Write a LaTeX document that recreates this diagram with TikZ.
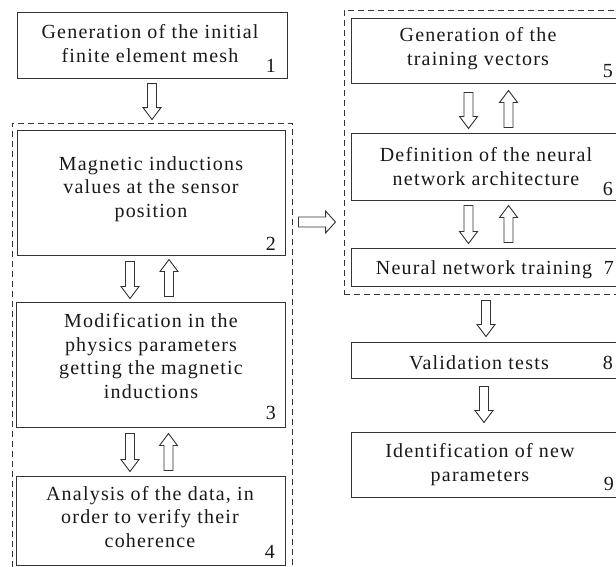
\documentclass[tikz,border=0pt]{standalone}
\usepackage{fontspec}
\setmainfont{Liberation Serif}[LetterSpace=6]
\usetikzlibrary{fit,calc}
\tikzset{
  box/.style={draw=black!80, line width=1pt, inner sep=0pt},
  dbox/.style={draw=black!80, line width=0.9pt, dash pattern=on 6pt off 4pt, inner sep=0pt},
  txt/.style={align=center, font=\fontsize{20}{23.5}\selectfont, text=black!90, inner sep=0pt, anchor=base},
  num/.style={font=\fontsize{20}{23.5}\selectfont, text=black!90, inner sep=0pt, anchor=base east},
  fat/.style={draw=black!80, line width=0.9pt, fill=white, line join=miter}
}
\newcommand\fatdown[2]{\draw[fat] let \p1=#1, \p2=#2 in
  (\x1-4.5pt,\y1) -- (\x1-4.5pt,\y2+12pt) -- (\x1-9pt,\y2+12pt) -- (\x1,\y2) --
  (\x1+9pt,\y2+12pt) -- (\x1+4.5pt,\y2+12pt) -- (\x1+4.5pt,\y1) -- cycle;}
\newcommand\fatup[2]{\draw[fat] let \p1=#1, \p2=#2 in
  (\x1-4.5pt,\y1) -- (\x1-4.5pt,\y2-12pt) -- (\x1-9pt,\y2-12pt) -- (\x1,\y2) --
  (\x1+9pt,\y2-12pt) -- (\x1+4.5pt,\y2-12pt) -- (\x1+4.5pt,\y1) -- cycle;}
\newcommand\fatright[2]{\draw[fat] let \p1=#1, \p2=#2 in
  (\x1,\y1-5pt) -- (\x2-10pt,\y1-5pt) -- (\x2-10pt,\y1-11pt) -- (\x2,\y1) --
  (\x2-10pt,\y1+11pt) -- (\x2-10pt,\y1+5pt) -- (\x1,\y1+5pt) -- cycle;}
\begin{document}
\begin{tikzpicture}[x=1pt,y=-1pt]
\useasboundingbox (0,0) rectangle (616,566);
\clip (0,0) rectangle (616,566);
\fill[white] (0,0) rectangle (616,566);
% dashed groups
\node[dbox, fit={(12,123)(292,575)}] (ld) {};
\node[dbox, fit={(344,10)(632,294)}] (rd) {};
% left boxes
\node[box, fit={(17,12)(287,78)}] (b1) {};
\node[box, fit={(17,130)(285,255)}] (b2) {};
\node[box, fit={(16,302)(285,427)}] (b3) {};
\node[box, fit={(16,476)(285,565)}] (b4) {};
% right boxes
\node[box, fit={(351,18)(624,83)}] (b5) {};
\node[box, fit={(351,133)(624,200)}] (b6) {};
\node[box, fit={(351,248)(624,286)}] (b7) {};
\node[box, fit={(351,342)(624,378)}] (b8) {};
\node[box, fit={(351,432)(624,497)}] (b9) {};
% texts (anchor = baseline of the last line)
\node[txt] (t1) at (150,62) {Generation of the initial\\finite element mesh};
\node[txt] (t2) at (151,217) {Magnetic inductions\\values at the sensor\\position};
\node[txt] (t3) at (151,398) {Modification in the\\physics parameters\\getting the magnetic\\inductions};
\node[txt] (t4) at (150,547) {Analysis of the data, in\\order to verify their\\coherence};
\node[txt] (t5) at (478,65) {Generation of the\\training vectors};
\node[txt] (t6) at (486,185) {Definition of the neural\\network architecture};
\node[txt] (t7) at (484,274) {Neural network training};
\node[txt] (t8) at (479,369) {Validation tests};
\node[txt] (t9) at (480,481) {Identification of new\\parameters};
% numbers
\node[num] (n1) at (276,72) {1};
\node[num] (n2) at (276,250) {2};
\node[num] (n3) at (276,419) {3};
\node[num] (n4) at (275,558) {4};
\node[num] (n5) at (613,77) {5};
\node[num] (n6) at (613,195) {6};
\node[num] (n7) at (614,274) {7};
\node[num] (n8) at (613,369) {8};
\node[num] (n9) at (614,490) {9};
% connectors
\fatdown{([yshift=-5pt]b1.south)}{([yshift=3pt]ld.north)}
\fatdown{([xshift=-21pt,yshift=-6pt]b2.south)}{([yshift=3pt]b3.north)}
\fatup{([xshift=18.5pt,yshift=5pt]b3.north)}{([yshift=-4pt]b2.south)}
\fatdown{([xshift=-20.5pt,yshift=-6pt]b3.south)}{([yshift=4pt]b4.north)}
\fatup{([xshift=18pt,yshift=5pt]b4.north)}{([yshift=-6pt]b3.south)}
\fatright{([xshift=6pt]ld.east |- 0,222)}{([xshift=-8pt]rd.west |- 0,222)}
\fatdown{([xshift=-19pt,yshift=-9pt]b5.south)}{([yshift=4pt]b6.north)}
\fatup{([xshift=21pt,yshift=5pt]b6.north)}{([yshift=-7pt]b5.south)}
\fatdown{([xshift=-19pt,yshift=-5pt]b6.south)}{([yshift=4pt]b7.north)}
\fatup{([xshift=21pt,yshift=5pt]b7.north)}{([yshift=-5pt]b6.south)}
\fatdown{([yshift=-6pt]rd.south -| 486,0)}{([yshift=5pt]b8.north -| 486,0)}
\fatdown{([yshift=-8pt]b8.south -| 484,0)}{([yshift=9pt]b9.north -| 484,0)}
\end{tikzpicture}
\end{document}
